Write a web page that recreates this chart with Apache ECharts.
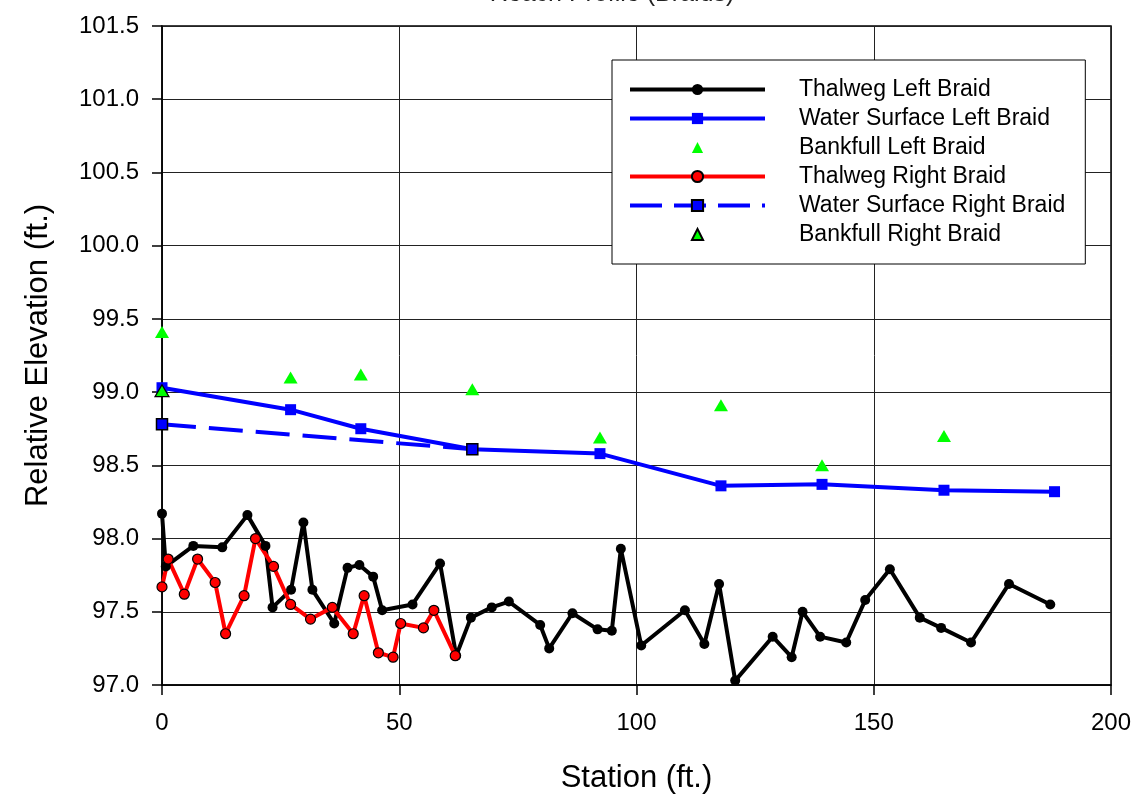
<!DOCTYPE html>
<html>
<head>
<meta charset="utf-8">
<script src="https://cdn.jsdelivr.net/npm/echarts@6/dist/echarts.min.js"></script>
<style>
html,body{margin:0;padding:0;background:#fff;}
#chart{width:1136px;height:799px;}
</style>
</head>
<body>
<div id="chart"></div>
<script>
// ---- Data ----
var chartTitle = 'Reach Profile (Braids)';
var xTicks = [0, 50, 100, 150, 200];
var yTicks = [97.0, 97.5, 98.0, 98.5, 99.0, 99.5, 100.0, 100.5, 101.0, 101.5];

var thalwegLeftX = [0, 0.8, 6.6, 12.7, 18.0, 21.8, 23.3, 27.2, 29.8, 31.7, 36.3, 39.1, 41.6, 44.5, 46.4, 52.8, 58.6, 62.0, 65.1, 69.5, 73.1, 79.7, 81.6, 86.5, 91.8, 94.8, 96.7, 101.0, 110.2, 114.3, 117.4, 120.8, 128.7, 132.7, 135.0, 138.7, 144.2, 148.2, 153.4, 159.7, 164.2, 170.5, 178.5, 187.2];
var thalwegLeftY = [98.17, 97.81, 97.95, 97.94, 98.16, 97.95, 97.53, 97.65, 98.11, 97.65, 97.42, 97.80, 97.82, 97.74, 97.51, 97.55, 97.83, 97.20, 97.46, 97.53, 97.57, 97.41, 97.25, 97.49, 97.38, 97.37, 97.93, 97.27, 97.51, 97.28, 97.69, 97.03, 97.33, 97.19, 97.50, 97.33, 97.29, 97.58, 97.79, 97.46, 97.39, 97.29, 97.69, 97.55];

var wsLeftX = [0, 27.1, 41.9, 65.4, 92.3, 117.8, 139.1, 164.8, 188.1];
var wsLeftY = [99.03, 98.88, 98.75, 98.61, 98.58, 98.36, 98.37, 98.33, 98.32];

var bankLeftX = [0, 27.1, 41.9, 65.4, 92.3, 117.8, 139.1, 164.8];
var bankLeftY = [99.41, 99.10, 99.12, 99.02, 98.69, 98.91, 98.50, 98.70];

var thalwegRightX = [0, 1.3, 4.7, 7.5, 11.2, 13.4, 17.3, 19.7, 23.5, 27.1, 31.3, 35.9, 40.3, 42.6, 45.6, 48.7, 50.3, 55.1, 57.3, 61.8];
var thalwegRightY = [97.67, 97.86, 97.62, 97.86, 97.70, 97.35, 97.61, 98.00, 97.81, 97.55, 97.45, 97.53, 97.35, 97.61, 97.22, 97.19, 97.42, 97.39, 97.51, 97.20];

var wsRightX = [0, 65.4];
var wsRightY = [98.78, 98.61];

var bankRightX = [0];
var bankRightY = [99.01];

var seriesNames = ['Thalweg Left Braid', 'Water Surface Left Braid', 'Bankfull Left Braid',
                   'Thalweg Right Braid', 'Water Surface Right Braid', 'Bankfull Right Braid'];

function pairs(xs, ys) { return xs.map(function (x, i) { return [x, ys[i]]; }); }

var FONT = '"Liberation Sans", Arial, sans-serif';
var chart = echarts.init(document.getElementById('chart'), null, {renderer: 'canvas'});

var option = {
  animation: false,
  backgroundColor: '#ffffff',
  title: {
    text: chartTitle,
    left: 607,
    top: -23,
    textAlign: 'center',
    textStyle: {fontFamily: FONT, fontSize: 25, fontWeight: 'normal', color: '#222'}
  },
  grid: {
    left: 162, right: 25, top: 26, bottom: 109,
    show: true, borderColor: '#000', borderWidth: 1.5, backgroundColor: 'transparent'
  },
  legend: {
    left: 612, top: 60,
    orient: 'vertical',
    padding: [18, 20, 18, 16],
    itemGap: 6,
    itemWidth: 135,
    itemHeight: 14,
    backgroundColor: '#ffffff',
    borderColor: '#000',
    borderWidth: 1,
    data: [
      {name: seriesNames[0], lineStyle: {width: 4, color: '#000'}},
      {name: seriesNames[1], lineStyle: {width: 4, color: '#0000ff'}},
      {name: seriesNames[2]},
      {name: seriesNames[3], lineStyle: {width: 4, color: '#ff0000'}},
      {name: seriesNames[4], lineStyle: {width: 4, color: '#0000ff', type: [32, 12]}},
      {name: seriesNames[5]}
    ],
    textStyle: {fontFamily: FONT, fontSize: 23, color: '#000', padding: [0, 0, 0, 29]}
  },
  xAxis: {
    type: 'value',
    min: xTicks[0], max: xTicks[xTicks.length - 1], interval: 50,
    name: 'Station (ft.)',
    nameLocation: 'middle',
    nameGap: 78,
    nameTextStyle: {fontFamily: FONT, fontSize: 31, color: '#000'},
    axisLine: {show: true, onZero: false, lineStyle: {color: '#000', width: 1.5}},
    axisTick: {show: true, length: 10, lineStyle: {color: '#000', width: 1.5}},
    axisLabel: {margin: 26, fontFamily: FONT, fontSize: 24, color: '#000'},
    splitLine: {show: true, lineStyle: {color: '#222', width: 1}}
  },
  yAxis: {
    type: 'value',
    min: yTicks[0], max: yTicks[yTicks.length - 1], interval: 0.5,
    name: 'Relative Elevation (ft.)',
    nameLocation: 'middle',
    nameGap: 108,
    nameTextStyle: {fontFamily: FONT, fontSize: 31, color: '#000'},
    axisLine: {show: true, onZero: false, lineStyle: {color: '#000', width: 1.5}},
    axisTick: {show: true, length: 10, lineStyle: {color: '#000', width: 1.5}},
    axisLabel: {margin: 23, fontFamily: FONT, fontSize: 24, color: '#000',
      formatter: function (v) { return v.toFixed(1); }},
    splitLine: {show: true, lineStyle: {color: '#222', width: 1}}
  },
  series: [
    {
      name: seriesNames[0], type: 'line', data: pairs(thalwegLeftX, thalwegLeftY),
      symbol: 'circle', symbolSize: 10, showSymbol: true,
      lineStyle: {color: '#000', width: 4},
      itemStyle: {color: '#000'}
    },
    {
      name: seriesNames[1], type: 'line', data: pairs(wsLeftX, wsLeftY),
      symbol: 'rect', symbolSize: 11, showSymbol: true,
      lineStyle: {color: '#0000ff', width: 4},
      itemStyle: {color: '#0000ff'}
    },
    {
      name: seriesNames[2], type: 'line', data: pairs(bankLeftX, bankLeftY),
      symbol: 'triangle', symbolSize: [14, 12], showSymbol: true,
      lineStyle: {width: 0, opacity: 0},
      itemStyle: {color: '#00ff00', opacity: 1}
    },
    {
      name: seriesNames[3], type: 'line', data: pairs(thalwegRightX, thalwegRightY),
      symbol: 'circle', symbolSize: 10, showSymbol: true,
      lineStyle: {color: '#ff0000', width: 4},
      itemStyle: {color: '#ff0000', borderColor: '#000', borderWidth: 1.2}
    },
    {
      name: seriesNames[4], type: 'line', data: pairs(wsRightX, wsRightY),
      symbol: 'rect', symbolSize: 11, showSymbol: true,
      lineStyle: {color: '#0000ff', width: 4, type: [34, 13]},
      itemStyle: {color: '#0000ff', borderColor: '#000', borderWidth: 1.5}
    },
    {
      name: seriesNames[5], type: 'line', data: pairs(bankRightX, bankRightY),
      symbol: 'triangle', symbolSize: [14, 12], showSymbol: true,
      lineStyle: {width: 0, opacity: 0},
      itemStyle: {color: '#00ff00', borderColor: '#000', borderWidth: 1.2, opacity: 1}
    }
  ]
};
chart.setOption(option);
</script>
</body>
</html>
